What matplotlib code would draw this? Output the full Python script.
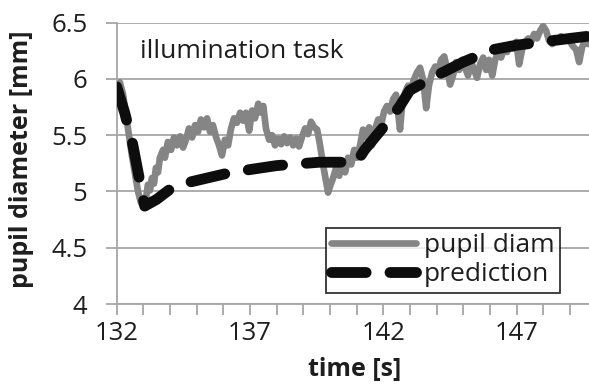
import matplotlib
matplotlib.use("Agg")
import matplotlib.pyplot as plt

plt.rcParams['font.family'] = ['Open Sans', 'DejaVu Sans']

# ---------------- data ----------------
time_pupil = [132.00, 132.12, 132.24, 132.35, 132.46, 132.57, 132.69, 132.80, 132.91, 133.02,
              133.10, 133.17, 133.25, 133.32, 133.40, 133.47, 133.55, 133.62, 133.74, 133.81,
              133.92, 134.04, 134.15, 134.26, 134.38, 134.49, 134.60, 134.71, 134.83, 134.94,
              135.05, 135.16, 135.28, 135.39, 135.50, 135.61, 135.73, 135.84, 135.95, 136.06,
              136.18, 136.29, 136.40, 136.51, 136.63, 136.74, 136.85, 136.97, 137.08, 137.19,
              137.31, 137.42, 137.50, 137.60, 137.72, 137.83, 137.94, 138.05, 138.17, 138.28,
              138.39, 138.51, 138.62, 138.73, 138.84, 138.96, 139.07, 139.18, 139.29, 139.41,
              139.52, 139.63, 139.74, 139.86, 139.93, 140.01, 140.12, 140.23, 140.35, 140.46,
              140.57, 140.68, 140.80, 140.91, 141.02, 141.13, 141.24, 141.36, 141.47, 141.58,
              141.69, 141.81, 141.92, 142.03, 142.14, 142.26, 142.37, 142.48, 142.63, 142.71,
              142.82, 142.93, 143.05, 143.16, 143.27, 143.38, 143.50, 143.61, 143.72, 143.84,
              143.95, 144.06, 144.17, 144.29, 144.40, 144.51, 144.62, 144.73, 144.85, 144.96,
              145.07, 145.18, 145.30, 145.41, 145.52, 145.63, 145.75, 145.86, 145.97, 146.09,
              146.20, 146.31, 146.42, 146.54, 146.65, 146.76, 146.88, 146.99, 147.10, 147.21,
              147.32, 147.44, 147.55, 147.66, 147.77, 147.89, 148.00, 148.11, 148.22, 148.34,
              148.45, 148.56, 148.67, 148.79, 148.90, 149.01, 149.12, 149.24, 149.35, 149.46,
              149.58, 149.69]
pupil_diam = [5.95, 5.97, 5.86, 5.68, 5.50, 5.32, 5.15, 5.00, 4.90, 4.87,
              4.94, 5.06, 5.01, 5.12, 5.07, 5.21, 5.17, 5.30, 5.37, 5.30,
              5.44, 5.37, 5.48, 5.41, 5.49, 5.39, 5.46, 5.56, 5.48, 5.59,
              5.53, 5.64, 5.57, 5.65, 5.53, 5.59, 5.48, 5.41, 5.32, 5.46,
              5.41, 5.56, 5.65, 5.61, 5.70, 5.63, 5.70, 5.54, 5.72, 5.65,
              5.78, 5.70, 5.76, 5.56, 5.46, 5.50, 5.41, 5.47, 5.42, 5.49,
              5.43, 5.48, 5.41, 5.47, 5.40, 5.49, 5.56, 5.51, 5.62, 5.57,
              5.55, 5.41, 5.24, 5.08, 4.99, 5.05, 5.12, 5.21, 5.14, 5.26,
              5.17, 5.30, 5.24, 5.37, 5.30, 5.41, 5.55, 5.48, 5.57, 5.41,
              5.55, 5.64, 5.59, 5.71, 5.76, 5.71, 5.82, 5.86, 5.55, 5.77,
              5.88, 5.94, 5.92, 6.00, 6.06, 6.10, 5.99, 5.74, 5.95, 6.06,
              6.11, 6.06, 6.17, 6.20, 6.08, 5.95, 6.03, 6.15, 6.08, 6.17,
              6.10, 6.03, 6.15, 6.08, 6.01, 6.13, 6.19, 6.08, 6.17, 6.03,
              6.17, 6.24, 6.19, 6.27, 6.24, 6.31, 6.27, 6.33, 6.13, 6.26,
              6.33, 6.36, 6.33, 6.40, 6.36, 6.43, 6.47, 6.43, 6.34, 6.31,
              6.36, 6.33, 6.38, 6.35, 6.37, 6.33, 6.29, 6.26, 6.15, 6.28,
              6.35, 6.31]

time_pred = [132.0, 132.3, 132.6, 132.9, 133.05, 133.5, 134.0, 134.5, 136.3, 138.0,
             139.6, 140.3, 141.0, 141.3, 142.0, 142.6, 143.0, 144.0, 145.0, 146.1,
             147.0, 148.0, 149.0, 149.7]
prediction = [5.93, 5.70, 5.42, 5.05, 4.87, 4.93, 5.02, 5.07, 5.17, 5.23,
              5.26, 5.26, 5.26, 5.37, 5.57, 5.75, 5.90, 6.03, 6.15, 6.26,
              6.30, 6.33, 6.36, 6.38]

x_major = [132, 137, 142, 147]
x_minor = list(range(132, 150))
y_ticks = [4, 4.5, 5, 5.5, 6, 6.5]
y_ticklabels = ['4', '4.5', '5', '5.5', '6', '6.5']

# ---------------- figure ----------------
W, H = 589, 385
AX_L, AX_T, AX_B = 116.7, 22.7, 304.0
AW, AH = W - AX_L, AX_B - AX_T
fig = plt.figure(figsize=(W / 100, H / 100), dpi=100)
ax = fig.add_axes([AX_L / W, 1 - AX_B / H, AW / W, AH / H])

grid_col = '#a6a6a6'
text_col = '#1e1e1e'

ax.plot(time_pupil, pupil_diam, color='#858585', lw=4.8, solid_joinstyle='round',
        solid_capstyle='round', label='pupil diam', zorder=2)
ax.plot(time_pred, prediction, color='#0d0d0d', lw=7.8, dashes=(3.2, 2.2),
        dash_capstyle='round', label='prediction', zorder=3)

ax.set_xlim(132, 149.72)
ax.set_ylim(4, 6.5)

ax.set_yticks(y_ticks)
ax.set_yticklabels(y_ticklabels)
ax.set_xticks(x_major)
ax.set_xticks(x_minor, minor=True)

for s in ['top', 'right']:
    ax.spines[s].set_visible(False)
for s in ['left', 'bottom']:
    ax.spines[s].set_color(grid_col)
    ax.spines[s].set_linewidth(1.3)

ax.yaxis.grid(True, color=grid_col, lw=1.3)
ax.set_axisbelow(True)

ax.tick_params(axis='y', which='major', length=8, width=1.3, color=grid_col,
               labelsize=18.5, labelcolor=text_col, pad=13)
ax.tick_params(axis='x', which='both', length=8, width=1.3, color=grid_col,
               labelsize=18.5, labelcolor=text_col, pad=4)

ax.set_xlabel('time [s]', fontsize=18, fontweight='bold', color=text_col)
ax.xaxis.set_label_coords((355 - AX_L) / AW, -(357 - AX_B) / AH)
ax.set_ylabel('pupil diameter [mm]', fontsize=18, fontweight='bold', color=text_col)
ax.yaxis.set_label_coords(-(AX_L - 34) / AW, (AX_B - 159) / AH)

ax.text((140 - AX_L) / AW, 1 - (52 - AX_T) / AH, 'illumination task',
        transform=ax.transAxes, fontsize=19, color=text_col, va='center', ha='left')

leg = ax.legend(loc='upper left',
                bbox_to_anchor=((326 - AX_L) / AW, 1 - (228 - AX_T) / AH),
                borderaxespad=0, fontsize=19, frameon=True, fancybox=False,
                edgecolor='black', handlelength=3.2, handletextpad=0.3,
                borderpad=0.2, labelspacing=0.15, labelcolor=text_col)
leg.get_frame().set_linewidth(1.3)

fig.savefig('out.png', dpi=100)
